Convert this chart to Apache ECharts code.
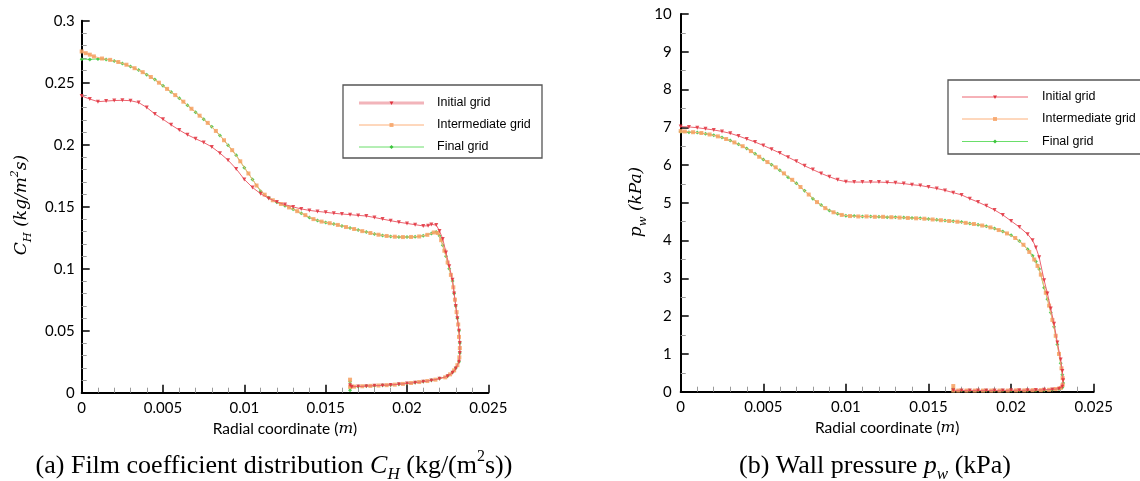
<!DOCTYPE html>
<html>
<head>
<meta charset="utf-8">
<script src="https://cdn.jsdelivr.net/npm/echarts@6/dist/echarts.min.js"></script>
<style>
html,body{margin:0;padding:0;background:#fff;}
#chart{width:1140px;height:481px;}
</style>
</head>
<body>
<div id="chart"></div>
<script>
// ---------- data ----------
const seriesNames = ['Initial grid', 'Intermediate grid', 'Final grid'];
const xTickLabels = ['0', '0.005', '0.01', '0.015', '0.02', '0.025'];
const chTickLabels = ['0', '0.05', '0.1', '0.15', '0.2', '0.25', '0.3'];
const pwTickLabels = ['0', '1', '2', '3', '4', '5', '6', '7', '8', '9', '10'];

// (a) film coefficient C_H vs radial coordinate
const chInitial = [
  [0,0.2393],[0.0005,0.2368],[0.001,0.2347],[0.0015,0.2352],[0.002,0.2356],[0.0025,0.2358],[0.003,0.2355],
  [0.0035,0.2340],[0.004,0.2300],[0.0045,0.2248],[0.005,0.2205],[0.0055,0.2160],[0.006,0.2118],[0.0065,0.2080],
  [0.007,0.2048],[0.0075,0.2018],[0.008,0.1982],[0.0085,0.1932],[0.009,0.1875],[0.0095,0.1805],[0.01,0.1720],
  [0.0105,0.1655],[0.011,0.1605],[0.0115,0.1567],[0.012,0.1538],[0.0125,0.1517],[0.013,0.1498],[0.0135,0.1482],
  [0.014,0.1470],[0.0145,0.1462],[0.015,0.1455],[0.0155,0.1447],[0.016,0.1441],[0.0165,0.1436],[0.017,0.1430],
  [0.0175,0.1425],[0.018,0.1413],[0.0185,0.1400],[0.019,0.1387],[0.0195,0.1375],[0.02,0.1365],[0.0205,0.1355],
  [0.021,0.1345],[0.0213,0.1346],[0.0215,0.1357],[0.0218,0.1352],[0.022,0.1305],[0.0222,0.1240],[0.0224,0.1130],
  [0.0226,0.1020],[0.0228,0.0910],[0.0229,0.0800],[0.023,0.0700],[0.0231,0.0600],[0.0232,0.0500],[0.02325,0.0400],
  [0.02325,0.0320],[0.0232,0.0250],[0.023,0.0195],[0.0228,0.0160],[0.0225,0.0133],[0.022,0.0113],[0.0215,0.0099],
  [0.021,0.0089],[0.0205,0.0081],[0.02,0.0074],[0.0195,0.0068],[0.019,0.0063],[0.0185,0.0059],[0.018,0.0056],
  [0.0175,0.0053],[0.017,0.0050],[0.0166,0.0048],[0.0165,0.0060]
];
const chIntermediate = [
  [0,0.2752],[0.00025,0.2738],[0.0005,0.2726],[0.00075,0.2712],[0.00125,0.2695],[0.00175,0.2684],[0.00225,0.2667],
  [0.00275,0.2645],[0.00325,0.2617],[0.00375,0.2585],[0.00425,0.2546],[0.00475,0.2500],[0.00525,0.2450],[0.00575,0.2400],
  [0.00625,0.2347],[0.00675,0.2290],[0.00725,0.2234],[0.00775,0.2176],[0.00825,0.2111],[0.00875,0.2036],[0.00925,0.1956],
  [0.00975,0.1866],[0.01025,0.1768],[0.01075,0.1671],[0.01125,0.1597],[0.01175,0.1552],[0.01225,0.1522],[0.01275,0.1494],
  [0.01325,0.1464],[0.01375,0.1432],[0.01425,0.1400],[0.01475,0.1380],[0.01525,0.1367],[0.01575,0.1353],[0.01625,0.1336],
  [0.01675,0.1320],[0.01725,0.1303],[0.01775,0.1288],[0.01825,0.1274],[0.01875,0.1264],[0.01925,0.1258],[0.01975,0.1255],
  [0.02025,0.1256],[0.02075,0.1260],[0.02125,0.1273],[0.02165,0.1292],[0.0219,0.1288],[0.0221,0.1230],[0.0223,0.1145],
  [0.0225,0.1050],[0.0227,0.0950],[0.02285,0.0850],[0.02295,0.0750],[0.02305,0.0650],[0.02315,0.0550],[0.0232,0.0450],
  [0.02325,0.0360],[0.02322,0.0285],[0.0231,0.0222],[0.0229,0.0180],[0.02265,0.0148],[0.02235,0.0124],[0.02175,0.0105],
  [0.02125,0.0094],[0.02075,0.0086],[0.02025,0.0078],[0.01975,0.0071],[0.01925,0.0065],[0.01875,0.0061],[0.01825,0.0058],
  [0.01775,0.0055],[0.01725,0.0052],[0.01675,0.0049],[0.0165,0.0047],[0.0165,0.0105]
];
const chFinal = [
  [0,0.2690],[0.0005,0.2688],[0.001,0.2692],[0.0015,0.2688],[0.002,0.2675],[0.0025,0.2655],[0.003,0.2630],
  [0.0035,0.2602],[0.004,0.2565],[0.0045,0.2525],[0.005,0.2475],[0.0055,0.2425],[0.006,0.2375],[0.0065,0.2318],
  [0.007,0.2262],[0.0075,0.2205],[0.008,0.2145],[0.0085,0.2075],[0.009,0.1995],[0.0095,0.1915],[0.01,0.1815],
  [0.0105,0.1720],[0.011,0.1625],[0.0115,0.1572],[0.012,0.1535],[0.0125,0.1508],[0.013,0.1480],[0.0135,0.1448],
  [0.014,0.1412],[0.0145,0.1388],[0.015,0.1372],[0.0155,0.1360],[0.016,0.1345],[0.0165,0.1328],[0.017,0.1312],
  [0.0175,0.1295],[0.018,0.1280],[0.0185,0.1268],[0.019,0.1260],[0.0195,0.1256],[0.02,0.1255],[0.0205,0.1257],
  [0.021,0.1265],[0.0215,0.1283],[0.0218,0.1296],[0.022,0.1265],[0.0222,0.1190],[0.0224,0.1100],[0.0226,0.1000],
  [0.0228,0.0900],[0.0229,0.0800],[0.023,0.0700],[0.0231,0.0600],[0.0232,0.0500],[0.02325,0.0400],[0.02325,0.0320],
  [0.0232,0.0250],[0.023,0.0200],[0.0228,0.0165],[0.0225,0.0135],[0.022,0.0115],[0.0215,0.0100],[0.021,0.0090],
  [0.0205,0.0082],[0.02,0.0075],[0.0195,0.0068],[0.019,0.0063],[0.0185,0.0060],[0.018,0.0057],[0.0175,0.0054],
  [0.017,0.0050],[0.0166,0.0048],[0.0165,0.0088],[0.0165,0.0020]
];

// (b) wall pressure p_w (kPa) vs radial coordinate
const pwInitial = [
  [0,7.02],[0.0005,7.01],[0.001,6.99],[0.0015,6.96],[0.002,6.93],[0.0025,6.89],[0.003,6.84],[0.0035,6.77],
  [0.004,6.69],[0.0045,6.61],[0.005,6.52],[0.0055,6.42],[0.006,6.32],[0.0065,6.21],[0.007,6.10],[0.0075,5.98],
  [0.008,5.88],[0.0085,5.78],[0.009,5.69],[0.0095,5.61],[0.01,5.56],[0.0105,5.55],[0.011,5.55],[0.0115,5.55],
  [0.012,5.55],[0.0125,5.54],[0.013,5.53],[0.0135,5.51],[0.014,5.48],[0.0145,5.46],[0.015,5.42],[0.0155,5.38],
  [0.016,5.33],[0.0165,5.27],[0.017,5.21],[0.0175,5.11],[0.018,5.02],[0.0185,4.92],[0.019,4.81],[0.0195,4.68],
  [0.02,4.52],[0.0205,4.36],[0.021,4.17],[0.0213,4.01],[0.0215,3.82],[0.0217,3.56],[0.022,2.95],[0.0222,2.60],
  [0.0224,2.20],[0.0226,1.80],[0.0228,1.30],[0.023,0.85],[0.0231,0.55],[0.02315,0.30],[0.0231,0.13],[0.0229,0.08],
  [0.0225,0.06],[0.022,0.05],[0.0215,0.045],[0.021,0.04],[0.0205,0.04],[0.02,0.04],[0.0195,0.035],[0.019,0.035],
  [0.0185,0.035],[0.018,0.035],[0.0175,0.035],[0.017,0.035],[0.0165,0.04]
];
const pwIntermediate = [
  [0,6.90],[0.00025,6.89],[0.00075,6.87],[0.00125,6.85],[0.00175,6.81],[0.00225,6.76],[0.00275,6.69],[0.00325,6.60],
  [0.00375,6.50],[0.00425,6.37],[0.00475,6.22],[0.00525,6.08],[0.00575,5.94],[0.00625,5.78],[0.00675,5.61],[0.00725,5.42],
  [0.00775,5.22],[0.00825,5.02],[0.00875,4.86],[0.00925,4.75],[0.00975,4.68],[0.01025,4.65],[0.01075,4.64],[0.01125,4.64],
  [0.01175,4.63],[0.01225,4.63],[0.01275,4.62],[0.01325,4.61],[0.01375,4.60],[0.01425,4.59],[0.01475,4.58],[0.01525,4.56],
  [0.01575,4.54],[0.01625,4.52],[0.01675,4.50],[0.01725,4.47],[0.01775,4.44],[0.01825,4.40],[0.01875,4.35],[0.01925,4.28],
  [0.01975,4.19],[0.02025,4.07],[0.02075,3.89],[0.0211,3.70],[0.0214,3.50],[0.0216,3.33],[0.0218,3.10],[0.0221,2.62],
  [0.0223,2.28],[0.0225,1.90],[0.0227,1.48],[0.0229,1.00],[0.02305,0.62],[0.02312,0.36],[0.02312,0.18],[0.023,0.10],
  [0.0227,0.07],[0.0223,0.05],[0.0218,0.04],[0.0213,0.04],[0.0208,0.035],[0.0203,0.035],[0.0198,0.03],[0.0193,0.03],
  [0.0188,0.03],[0.0183,0.03],[0.0178,0.03],[0.0173,0.03],[0.0168,0.03],[0.0165,0.03],[0.0165,0.15]
];
const pwFinal = [
  [0,6.88],[0.0005,6.87],[0.001,6.86],[0.0015,6.83],[0.002,6.79],[0.0025,6.73],[0.003,6.65],[0.0035,6.55],
  [0.004,6.44],[0.0045,6.30],[0.005,6.15],[0.0055,6.01],[0.006,5.86],[0.0065,5.68],[0.007,5.52],[0.0075,5.32],
  [0.008,5.11],[0.0085,4.94],[0.009,4.80],[0.0095,4.71],[0.01,4.66],[0.0105,4.65],[0.011,4.64],[0.0115,4.64],
  [0.012,4.63],[0.0125,4.62],[0.013,4.62],[0.0135,4.61],[0.014,4.60],[0.0145,4.59],[0.015,4.57],[0.0155,4.55],
  [0.016,4.53],[0.0165,4.51],[0.017,4.49],[0.0175,4.45],[0.018,4.42],[0.0185,4.38],[0.019,4.32],[0.0195,4.24],
  [0.02,4.14],[0.0205,3.99],[0.021,3.77],[0.0213,3.60],[0.0215,3.45],[0.0217,3.25],[0.022,2.75],[0.0222,2.45],
  [0.0224,2.10],[0.0226,1.72],[0.0228,1.25],[0.023,0.75],[0.0231,0.45],[0.02315,0.23],[0.0231,0.11],[0.0229,0.07],
  [0.0225,0.05],[0.022,0.04],[0.0215,0.035],[0.021,0.035],[0.0205,0.03],[0.02,0.03],[0.0195,0.03],[0.019,0.03],
  [0.0185,0.03],[0.018,0.03],[0.0175,0.03],[0.017,0.03],[0.0165,0.03],[0.0165,0.08]
];

// ---------- styles ----------
const lineColors = ['#ec6470', '#fdb07a', '#6ade6a'];
const markColors = ['#e0303c', '#f6a060', '#3cc43c'];
const symbols = ['triangle', 'rect', 'diamond'];
const symbolSizes = [4, 4, 4];
const symbolRotates = [180, 0, 0];
const tickFont = 'Lato, "Open Sans", sans-serif';
const mathFont = '"DejaVu Serif", serif';
const capFont = '"Liberation Serif", serif';

function fmt(labels, step) {
  return function (v) { return labels[Math.round(v / step)]; };
}

const axisCommon = {
  type: 'value',
  splitLine: { show: false },
  axisLine: { show: true, onZero: false, lineStyle: { color: '#000', width: 2 } },
  axisTick: { show: true, inside: true, length: 8, lineStyle: { color: '#000', width: 1.5 } },
  minorSplitLine: { show: false }
};

function xAxisFor(gi) {
  return Object.assign({}, axisCommon, {
    gridIndex: gi, min: 0, max: 0.025, interval: 0.005,
    minorTick: { show: true, splitNumber: 5, length: 5, lineStyle: { color: '#9a9a9a', width: 1 } },
    axisLabel: { formatter: fmt(xTickLabels, 0.005), color: '#000', fontSize: 15, fontFamily: tickFont, margin: 8 },
    name: '{n|Radial coordinate (}{i|m}{n|)}',
    nameLocation: 'middle', nameGap: 23,
    nameTextStyle: {
      rich: {
        n: { fontSize: 15.5, fontFamily: tickFont, color: '#000' },
        i: { fontSize: 15.5, fontFamily: mathFont, fontStyle: 'italic', color: '#000' }
      }
    }
  });
}

function makeSeries(data, k, gi) {
  return {
    name: seriesNames[k], type: 'line', xAxisIndex: gi, yAxisIndex: gi,
    data: data, symbol: symbols[k], symbolSize: symbolSizes[k], symbolRotate: symbolRotates[k],
    showAllSymbol: true, smooth: false, animation: false, z: 5 - k,
    lineStyle: { color: lineColors[k], width: 1 },
    itemStyle: { color: markColors[k], opacity: 0.85 }
  };
}

function legendGraphics(bx, by, bw, bh, lx1, lx2, tx, rows, firstWide) {
  const els = [{
    type: 'rect', shape: { x: bx, y: by, width: bw, height: bh },
    style: { fill: '#fff', stroke: '#555', lineWidth: 1.3 }, z: 100
  }];
  rows.forEach(function (ry, k) {
    const mx = (lx1 + lx2) / 2;
    const wide = firstWide && k === 0;
    els.push({ type: 'line', shape: { x1: lx1, y1: ry, x2: lx2, y2: ry },
      style: { stroke: wide ? '#f2b4ba' : lineColors[k], lineWidth: wide ? 3 : 1 }, z: 101 });
    if (k === 0) {
      els.push({ type: 'polygon', shape: { points: [[mx - 2, ry - 1.5], [mx + 2, ry - 1.5], [mx, ry + 2]] },
        style: { fill: markColors[k] }, z: 102 });
    } else if (k === 1) {
      els.push({ type: 'rect', shape: { x: mx - 2, y: ry - 2, width: 4, height: 4 },
        style: { fill: markColors[k], opacity: 0.8 }, z: 102 });
    } else {
      els.push({ type: 'polygon', shape: { points: [[mx, ry - 2], [mx + 2, ry], [mx, ry + 2], [mx - 2, ry]] },
        style: { fill: markColors[k] }, z: 102 });
    }
    els.push({ type: 'text', x: tx, y: ry, z: 102,
      style: { text: seriesNames[k], fill: '#000', fontSize: 12.5, fontFamily: '"Liberation Sans", Arial, sans-serif',
        textAlign: 'left', textVerticalAlign: 'middle' } });
  });
  return els;
}

const mathRich = {
  i: { fontSize: 17, fontFamily: mathFont, fontStyle: 'italic', fill: '#000', lineHeight: 24, verticalAlign: 'middle' },
  s: { fontSize: 11.5, fontFamily: mathFont, fontStyle: 'italic', fill: '#000', lineHeight: 24, verticalAlign: 'bottom' },
  p: { fontSize: 11, fontFamily: mathFont, fontStyle: 'italic', fill: '#000', lineHeight: 24, verticalAlign: 'top' }
};

const capRich = {
  r: { fontSize: 26, fontFamily: capFont, fill: '#000', lineHeight: 34, verticalAlign: 'middle' },
  i: { fontSize: 26, fontFamily: capFont, fontStyle: 'italic', fill: '#000', lineHeight: 34, verticalAlign: 'middle' },
  s: { fontSize: 17, fontFamily: capFont, fontStyle: 'italic', fill: '#000', lineHeight: 32, verticalAlign: 'bottom' },
  p: { fontSize: 16, fontFamily: capFont, fill: '#000', lineHeight: 32, verticalAlign: 'top' }
};

const option = {
  backgroundColor: '#fff',
  animation: false,
  grid: [
    { left: 81.7, top: 20.7, width: 406.6, height: 372 },
    { left: 680.7, top: 14, width: 413, height: 377.7 }
  ],
  xAxis: [xAxisFor(0), xAxisFor(1)],
  yAxis: [
    Object.assign({}, axisCommon, {
      gridIndex: 0, min: 0, max: 0.3, interval: 0.05,
      minorTick: { show: true, splitNumber: 5, length: 5, lineStyle: { color: '#9a9a9a', width: 1 } },
      axisLabel: { formatter: fmt(chTickLabels, 0.05), color: '#000', fontSize: 15, fontFamily: tickFont, margin: 7 }
    }),
    Object.assign({}, axisCommon, {
      gridIndex: 1, min: 0, max: 10, interval: 1,
      minorTick: { show: true, splitNumber: 2, length: 5, lineStyle: { color: '#9a9a9a', width: 1 } },
      axisLabel: { formatter: fmt(pwTickLabels, 1), color: '#000', fontSize: 15, fontFamily: tickFont, margin: 9 }
    })
  ],
  series: [
    makeSeries(chFinal, 2, 0), makeSeries(chIntermediate, 1, 0), makeSeries(chInitial, 0, 0),
    makeSeries(pwFinal, 2, 1), makeSeries(pwIntermediate, 1, 1), makeSeries(pwInitial, 0, 1)
  ],
  graphic: [].concat(
    legendGraphics(343, 85, 199, 73, 359, 424, 437, [103, 125, 147], true),
    legendGraphics(948, 80, 205, 74, 962, 1028, 1042, [97, 119, 141.5], false),
    [
      { type: 'text', x: 22, y: 205, rotation: Math.PI / 2,
        style: { text: '{i|C}{s|H}{i| (kg/m}{p|2}{i|s)}', rich: mathRich, textAlign: 'center', textVerticalAlign: 'middle' } },
      { type: 'text', x: 637, y: 202, rotation: Math.PI / 2,
        style: { text: '{i|p}{s|w}{i| (kPa)}', rich: mathRich, textAlign: 'center', textVerticalAlign: 'middle' } },
      { type: 'text', x: 274, y: 466,
        style: { text: '{r|(a) Film coefficient distribution }{i|C}{s|H}{r| (kg/(m}{p|2}{r|s))}', rich: capRich,
          textAlign: 'center', textVerticalAlign: 'middle' } },
      { type: 'text', x: 875, y: 466,
        style: { text: '{r|(b) Wall pressure }{i|p}{s|w}{r| (kPa)}', rich: capRich,
          textAlign: 'center', textVerticalAlign: 'middle' } }
    ]
  )
};

const chart = echarts.init(document.getElementById('chart'), null, { renderer: 'canvas' });
chart.setOption(option);
</script>
</body>
</html>
